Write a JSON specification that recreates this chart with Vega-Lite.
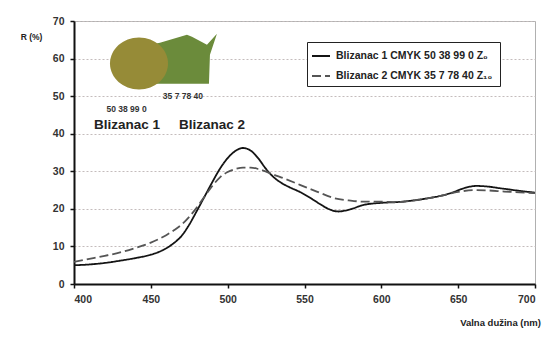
{
  "$schema": "https://vega.github.io/schema/vega-lite/v6.json",
  "width": 461,
  "height": 263,
  "autosize": {"type": "none"},
  "padding": {"left": 74, "top": 21, "right": 22, "bottom": 56},
  "background": "white",
  "config": {
    "view": {"stroke": "#b0b0b0", "strokeWidth": 1},
    "font": "Liberation Sans"
  },
  "datasets": {
    "curves": [
      {"nm": 400, "R": 5.0, "s": "B1"}, {"nm": 410, "R": 5.2, "s": "B1"}, {"nm": 420, "R": 5.6, "s": "B1"},
      {"nm": 430, "R": 6.2, "s": "B1"}, {"nm": 440, "R": 6.9, "s": "B1"}, {"nm": 450, "R": 7.8, "s": "B1"},
      {"nm": 455, "R": 8.5, "s": "B1"}, {"nm": 460, "R": 9.5, "s": "B1"}, {"nm": 465, "R": 10.9, "s": "B1"},
      {"nm": 470, "R": 12.8, "s": "B1"}, {"nm": 475, "R": 15.8, "s": "B1"}, {"nm": 480, "R": 19.5, "s": "B1"},
      {"nm": 485, "R": 23.3, "s": "B1"}, {"nm": 490, "R": 27.1, "s": "B1"}, {"nm": 495, "R": 30.7, "s": "B1"},
      {"nm": 500, "R": 33.5, "s": "B1"}, {"nm": 505, "R": 35.4, "s": "B1"}, {"nm": 510, "R": 36.2, "s": "B1"},
      {"nm": 515, "R": 35.5, "s": "B1"}, {"nm": 520, "R": 33.4, "s": "B1"}, {"nm": 525, "R": 30.6, "s": "B1"},
      {"nm": 530, "R": 28.4, "s": "B1"}, {"nm": 535, "R": 26.9, "s": "B1"}, {"nm": 540, "R": 25.8, "s": "B1"},
      {"nm": 547, "R": 24.5, "s": "B1"}, {"nm": 555, "R": 22.6, "s": "B1"}, {"nm": 560, "R": 21.3, "s": "B1"},
      {"nm": 565, "R": 20.1, "s": "B1"}, {"nm": 572, "R": 19.3, "s": "B1"}, {"nm": 580, "R": 19.9, "s": "B1"},
      {"nm": 588, "R": 21.0, "s": "B1"}, {"nm": 600, "R": 21.6, "s": "B1"}, {"nm": 610, "R": 21.8, "s": "B1"},
      {"nm": 620, "R": 22.2, "s": "B1"}, {"nm": 630, "R": 22.8, "s": "B1"}, {"nm": 640, "R": 23.6, "s": "B1"},
      {"nm": 646, "R": 24.3, "s": "B1"}, {"nm": 653, "R": 25.4, "s": "B1"}, {"nm": 662, "R": 26.1, "s": "B1"},
      {"nm": 670, "R": 25.9, "s": "B1"}, {"nm": 677, "R": 25.5, "s": "B1"}, {"nm": 690, "R": 24.8, "s": "B1"},
      {"nm": 700, "R": 24.3, "s": "B1"},
      {"nm": 400, "R": 5.9, "s": "B2"}, {"nm": 410, "R": 6.7, "s": "B2"}, {"nm": 420, "R": 7.5, "s": "B2"},
      {"nm": 430, "R": 8.4, "s": "B2"}, {"nm": 440, "R": 9.6, "s": "B2"}, {"nm": 450, "R": 11.0, "s": "B2"},
      {"nm": 460, "R": 13.0, "s": "B2"}, {"nm": 465, "R": 14.3, "s": "B2"}, {"nm": 470, "R": 15.8, "s": "B2"},
      {"nm": 475, "R": 17.9, "s": "B2"}, {"nm": 480, "R": 20.4, "s": "B2"}, {"nm": 485, "R": 23.3, "s": "B2"},
      {"nm": 490, "R": 26.1, "s": "B2"}, {"nm": 495, "R": 28.4, "s": "B2"}, {"nm": 500, "R": 29.8, "s": "B2"},
      {"nm": 505, "R": 30.6, "s": "B2"}, {"nm": 510, "R": 31.0, "s": "B2"}, {"nm": 515, "R": 31.0, "s": "B2"},
      {"nm": 520, "R": 30.6, "s": "B2"}, {"nm": 525, "R": 29.9, "s": "B2"}, {"nm": 530, "R": 29.1, "s": "B2"},
      {"nm": 536, "R": 28.2, "s": "B2"}, {"nm": 547, "R": 26.4, "s": "B2"}, {"nm": 558, "R": 24.6, "s": "B2"},
      {"nm": 569, "R": 22.9, "s": "B2"}, {"nm": 580, "R": 22.2, "s": "B2"}, {"nm": 590, "R": 21.9, "s": "B2"},
      {"nm": 600, "R": 21.9, "s": "B2"}, {"nm": 610, "R": 21.8, "s": "B2"}, {"nm": 620, "R": 22.2, "s": "B2"},
      {"nm": 630, "R": 22.8, "s": "B2"}, {"nm": 640, "R": 23.6, "s": "B2"}, {"nm": 650, "R": 24.5, "s": "B2"},
      {"nm": 660, "R": 25.0, "s": "B2"}, {"nm": 670, "R": 24.9, "s": "B2"}, {"nm": 680, "R": 24.6, "s": "B2"},
      {"nm": 690, "R": 24.4, "s": "B2"}, {"nm": 700, "R": 24.2, "s": "B2"}
    ],
    "labels": [
      {"nm": 434.2, "R": 46.6, "t": "50 38 99 0", "k": "small"},
      {"nm": 470.9, "R": 50.1, "t": "35 7  78 40", "k": "small"},
      {"nm": 434.5, "R": 42.4, "t": "Blizanac 1", "k": "big"},
      {"nm": 489.8, "R": 42.4, "t": "Blizanac 2", "k": "big"}
    ],
    "swatch2": [{"nm": 472.2, "R": 59.7}],
    "swatch1": [{"nm": 442.3, "R": 58.7}]
  },
  "encoding": {
    "x": {
      "field": "nm", "type": "quantitative",
      "scale": {"domain": [400, 700], "nice": false},
      "axis": {
        "values": [400, 450, 500, 550, 600, 650, 700],
        "title": "Valna dužina (nm)",
        "titleFont": "Liberation Sans", "titleFontSize": 9.5, "titleFontWeight": "bold", "titleColor": "#222",
        "titleX": 426, "titleY": 38, "titleAlign": "center", "titleBaseline": "middle",
        "grid": false, "domainColor": "#111", "domainWidth": 2, "tickColor": "#111", "tickWidth": 1.5, "tickSize": 4,
        "labelFont": "Liberation Sans", "labelFontSize": 10.5, "labelFontWeight": "bold", "labelColor": "#333", "labelPadding": 6,
        "labelOverlap": false
      }
    },
    "y": {
      "field": "R", "type": "quantitative",
      "scale": {"domain": [0, 70], "nice": false},
      "axis": {
        "values": [0, 10, 20, 30, 40, 50, 60, 70],
        "title": "R (%)",
        "titleFont": "Liberation Sans", "titleFontSize": 8.5, "titleFontWeight": "bold", "titleColor": "#222",
        "titleAngle": 0, "titleX": -43, "titleY": 15, "titleAlign": "center", "titleBaseline": "middle",
        "grid": true, "gridColor": "#c4bcbc", "gridDash": [2, 2], "gridWidth": 1,
        "domainColor": "#111", "domainWidth": 2, "tickColor": "#111", "tickWidth": 1.5, "tickSize": 4,
        "labelFont": "Liberation Sans", "labelFontSize": 10.5, "labelFontWeight": "bold", "labelColor": "#333", "labelPadding": 6,
        "labelOverlap": false
      }
    }
  },
  "layer": [
    {
      "data": {"name": "swatch2"},
      "mark": {"type": "point", "filled": true, "opacity": 1, "color": "#6b8b3b", "size": 4, "clip": false,
               "shape": "M-35,-15L-25,-17L2,-25L7,-23L22,-15L32,-26L25,-5L24,24L-35,24Z"}
    },
    {
      "data": {"name": "swatch1"},
      "mark": {"type": "point", "filled": true, "opacity": 1, "color": "#968b37", "size": 4, "clip": false,
               "shape": "M-29,0A29,26 0 1,1 29,0A29,26 0 1,1 -29,0Z"}
    },
    {
      "data": {"name": "labels"},
      "transform": [{"filter": "datum.k === 'small'"}],
      "mark": {"type": "text", "font": "Liberation Sans", "fontWeight": "bold", "fontSize": 8.5, "color": "#333", "align": "center", "baseline": "middle"},
      "encoding": {"text": {"field": "t"}}
    },
    {
      "data": {"name": "labels"},
      "transform": [{"filter": "datum.k === 'big'"}],
      "mark": {"type": "text", "font": "Liberation Sans", "fontWeight": "bold", "fontSize": 13.5, "color": "#222", "align": "center", "baseline": "middle"},
      "encoding": {"text": {"field": "t"}}
    },
    {
      "data": {"name": "curves"},
      "mark": {"type": "line", "interpolate": "monotone", "strokeWidth": 1.8},
      "encoding": {
        "color": {
          "field": "s", "type": "nominal",
          "scale": {"domain": ["B1", "B2"], "range": ["#141414", "#555555"]},
          "legend": {
            "orient": "none", "legendX": 233, "legendY": 21, "title": null,
            "fillColor": "white", "strokeColor": "#222", "padding": 4, "rowPadding": 4,
            "symbolType": "stroke", "symbolSize": 324, "symbolStrokeWidth": 2, "labelOffset": 5,
            "labelFont": "Liberation Sans", "labelFontSize": 10.5, "labelFontWeight": "bold", "labelColor": "#222",
            "labelLimit": 300,
            "labelExpr": "datum.value === 'B1' ? 'Blizanac 1 CMYK 50 38 99 0  Z₀' : 'Blizanac 2 CMYK 35 7 78 40  Z₁₀'"
          }
        },
        "strokeDash": {
          "field": "s", "type": "nominal",
          "scale": {"domain": ["B1", "B2"], "range": [[1, 0], [9, 4]]},
          "legend": {
            "orient": "none", "legendX": 233, "legendY": 21, "title": null,
            "fillColor": "white", "strokeColor": "#222", "padding": 4, "rowPadding": 4,
            "symbolType": "stroke", "symbolSize": 324, "symbolStrokeWidth": 2, "labelOffset": 5,
            "labelFont": "Liberation Sans", "labelFontSize": 10.5, "labelFontWeight": "bold", "labelColor": "#222",
            "labelLimit": 300,
            "labelExpr": "datum.value === 'B1' ? 'Blizanac 1 CMYK 50 38 99 0  Z₀' : 'Blizanac 2 CMYK 35 7 78 40  Z₁₀'"
          }
        }
      }
    }
  ]
}
